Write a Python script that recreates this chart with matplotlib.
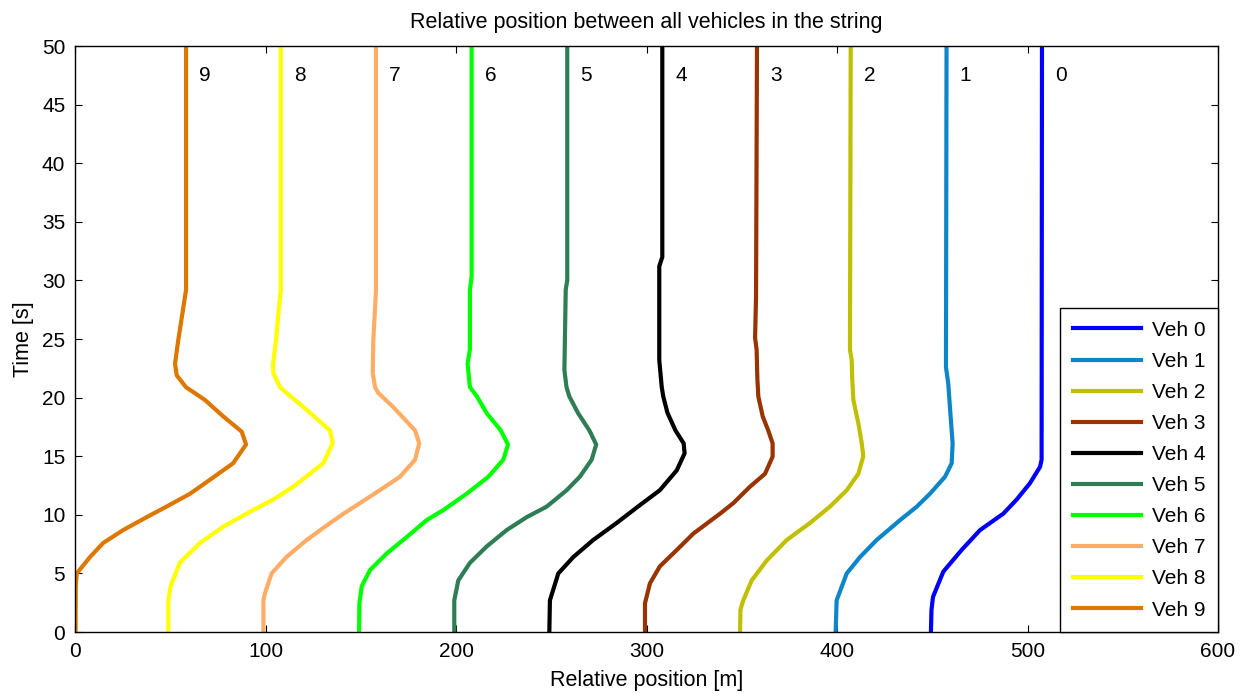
import matplotlib
matplotlib.use("Agg")
import matplotlib.pyplot as plt

plt.rcParams['font.family'] = ['Liberation Sans', 'DejaVu Sans']

# ---- data: (time [s], relative position [m]) for each vehicle ----
veh0_t = [0, 1.9, 3.0, 5.15, 7.0, 8.7, 10.1, 11.3, 12.7, 14.1, 14.7, 50]
veh0_x = [449.3, 449.6, 450.4, 455.8, 465.4, 475.1, 487.3, 494.3, 501.3, 506.6, 507.4, 507.6]

veh1_t = [0, 2.7, 5.0, 6.4, 7.85, 9.55, 10.7, 11.8, 13.25, 14.4, 16.1, 18.7, 21.2, 22.6, 50]
veh1_x = [399.3, 399.8, 405.1, 412.1, 420.8, 433.1, 441.9, 448.8, 456.7, 460.2, 460.7, 459.5, 458.4, 457.2, 457.5]

veh2_t = [0, 1.9, 2.7, 4.4, 6.1, 7.85, 9.3, 10.7, 12.1, 13.5, 15.0, 16.1, 17.8, 19.8, 21.6, 23.2, 24.1, 50]
veh2_x = [349.1, 349.3, 350.8, 355.2, 363.1, 373.6, 385.8, 396.3, 405.1, 411.2, 413.8, 413.0, 411.2, 408.6, 408.0, 407.7, 406.8, 407.2]

veh3_t = [0, 2.45, 4.15, 5.6, 7.0, 8.4, 10.1, 11.0, 12.4, 13.5, 14.96, 16.1, 17.2, 18.4, 20.1, 21.6, 24.1, 25.1, 28.6, 50]
veh3_x = [299.2, 299.2, 301.8, 307.0, 315.9, 324.6, 338.6, 345.6, 354.3, 362.2, 366.2, 366.2, 363.9, 361.0, 358.7, 358.2, 357.8, 357.0, 357.5, 358.0]

veh4_t = [0, 2.7, 5.0, 6.4, 7.85, 9.3, 10.7, 12.1, 13.8, 15.25, 16.1, 17.2, 18.7, 20.1, 20.9, 23.2, 28.9, 31.2, 32.0, 50]
veh4_x = [249.0, 249.3, 253.7, 261.6, 272.0, 284.3, 295.5, 307.0, 315.9, 320.0, 319.5, 315.2, 311.0, 308.8, 308.0, 306.7, 306.7, 306.7, 308.3, 308.3]

veh5_t = [0, 2.7, 4.4, 5.9, 7.3, 8.7, 9.8, 10.7, 12.1, 13.25, 14.7, 16.0, 17.2, 18.7, 20.1, 20.9, 22.35, 29.2, 30.0, 50]
veh5_x = [199.1, 199.1, 201.2, 207.3, 216.1, 226.6, 237.1, 247.6, 258.1, 265.0, 271.2, 273.6, 270.0, 264.0, 259.5, 258.0, 256.9, 257.6, 258.4, 258.4]

veh6_t = [0, 2.45, 3.9, 5.3, 6.7, 8.1, 9.55, 10.4, 11.8, 13.25, 14.7, 16.0, 17.2, 18.7, 20.1, 20.9, 22.9, 24.1, 29.2, 30.3, 50]
veh6_x = [149.1, 149.3, 150.5, 154.9, 163.6, 174.1, 184.6, 193.3, 205.6, 217.0, 224.8, 227.3, 223.5, 216.0, 211.0, 207.3, 206.1, 207.3, 207.3, 208.2, 208.2]

veh7_t = [0, 2.7, 3.3, 5.0, 6.4, 7.85, 9.3, 10.1, 11.0, 12.1, 13.25, 14.7, 16.1, 17.2, 19.2, 20.4, 20.9, 22.1, 24.9, 29.2, 50]
veh7_x = [98.9, 98.9, 99.7, 103.2, 111.0, 121.6, 133.9, 141.0, 149.6, 160.0, 170.6, 178.5, 180.7, 178.5, 167.0, 159.2, 157.5, 156.3, 156.6, 158.0, 158.0]

veh8_t = [0, 2.7, 3.9, 5.9, 7.6, 9.0, 10.1, 11.3, 12.4, 14.4, 16.1, 17.2, 19.2, 20.4, 20.9, 22.1, 22.9, 24.9, 29.2, 50]
veh8_x = [49.0, 49.0, 50.2, 55.0, 65.6, 77.9, 90.0, 104.0, 114.6, 130.3, 135.3, 133.9, 119.9, 111.0, 107.6, 104.1, 104.0, 105.5, 108.0, 108.0]

veh9_t = [0, 3.9, 5.0, 6.4, 7.6, 8.7, 9.8, 10.7, 11.8, 13.0, 14.4, 16.0, 17.1, 18.4, 19.8, 20.9, 21.9, 22.9, 24.9, 29.2, 50]
veh9_x = [0.3, 0.4, 0.9, 7.9, 14.8, 25.3, 37.6, 48.0, 60.4, 70.9, 83.0, 89.8, 87.5, 77.8, 68.2, 58.2, 53.4, 52.5, 54.2, 58.3, 58.3]

veh_labels = ["Veh 0", "Veh 1", "Veh 2", "Veh 3", "Veh 4",
              "Veh 5", "Veh 6", "Veh 7", "Veh 8", "Veh 9"]
end_labels = ["0", "1", "2", "3", "4", "5", "6", "7", "8", "9"]
colors = ["#0000FF", "#0C86C8", "#C0C000", "#993300", "#000000",
          "#2E7D55", "#00FF00", "#FFAD66", "#FFFF00", "#DD7700"]

times = [veh0_t, veh1_t, veh2_t, veh3_t, veh4_t, veh5_t, veh6_t, veh7_t, veh8_t, veh9_t]
positions = [veh0_x, veh1_x, veh2_x, veh3_x, veh4_x, veh5_x, veh6_x, veh7_x, veh8_x, veh9_x]

fig = plt.figure(figsize=(12.5, 6.94), dpi=100)
ax = fig.add_axes([0.06, 0.0893, 0.9144, 0.8444])

fs = 15
fl = 15.5
for t, x, c, lab in zip(times, positions, colors, veh_labels):
    ax.plot(x, t, color=c, lw=3, label=lab, solid_joinstyle='round')

for x, lab in zip(positions, end_labels):
    ax.text(x[-1] + 7, 47.5, lab, fontsize=fs, ha='left', va='center')

ax.set_xlim(0, 600)
ax.set_ylim(0, 50)
ax.set_xticks(range(0, 601, 100))
ax.set_yticks(range(0, 51, 5))
ax.tick_params(direction='in', top=True, right=True, length=5, labelsize=fs, pad=7)
for s in ax.spines.values():
    s.set_linewidth(1.0)

ax.set_title("Relative position between all vehicles in the string", fontsize=fl, pad=13)
ax.set_xlabel("Relative position [m]", fontsize=fl, labelpad=7)
ax.set_ylabel("Time [s]", fontsize=fl, labelpad=6)

leg = ax.legend(loc='lower right', borderaxespad=0, fontsize=fs, fancybox=False,
                framealpha=1, edgecolor='black', handlelength=3.3, labelspacing=0.58,
                borderpad=0.6, handletextpad=0.5)
leg.get_frame().set_linewidth(1.0)

fig.savefig("out.png", dpi=100)
